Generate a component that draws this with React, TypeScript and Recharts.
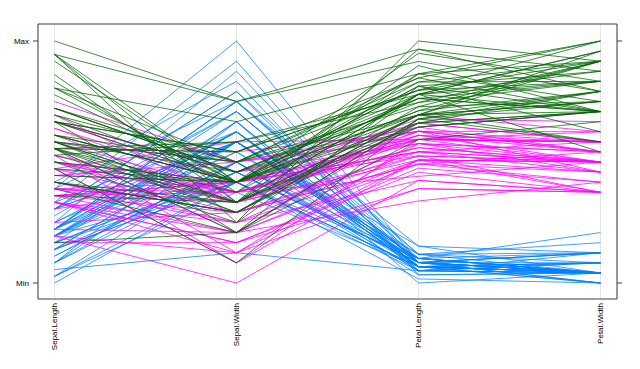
import React from 'react';
import {
  LineChart,
  Line,
  XAxis,
  YAxis,
  CartesianGrid,
  ReferenceLine,
} from 'recharts';

// variables on the horizontal axis
const variables = ['Sepal.Length', 'Sepal.Width', 'Petal.Length', 'Petal.Width'];
const yTickLabels = ['Min', 'Max'];

// one row per flower: [Sepal.Length, Sepal.Width, Petal.Length, Petal.Width]
const setosa = [
  [5.1, 3.5, 1.4, 0.2], [4.9, 3.0, 1.4, 0.2], [4.7, 3.2, 1.3, 0.2], [4.6, 3.1, 1.5, 0.2], [5.0, 3.6, 1.4, 0.2],
  [5.4, 3.9, 1.7, 0.4], [4.6, 3.4, 1.4, 0.3], [5.0, 3.4, 1.5, 0.2], [4.4, 2.9, 1.4, 0.2], [4.9, 3.1, 1.5, 0.1],
  [5.4, 3.7, 1.5, 0.2], [4.8, 3.4, 1.6, 0.2], [4.8, 3.0, 1.4, 0.1], [4.3, 3.0, 1.1, 0.1], [5.8, 4.0, 1.2, 0.2],
  [5.7, 4.4, 1.5, 0.4], [5.4, 3.9, 1.3, 0.4], [5.1, 3.5, 1.4, 0.3], [5.7, 3.8, 1.7, 0.3], [5.1, 3.8, 1.5, 0.3],
  [5.4, 3.4, 1.7, 0.2], [5.1, 3.7, 1.5, 0.4], [4.6, 3.6, 1.0, 0.2], [5.1, 3.3, 1.7, 0.5], [4.8, 3.4, 1.9, 0.2],
  [5.0, 3.0, 1.6, 0.2], [5.0, 3.4, 1.6, 0.4], [5.2, 3.5, 1.5, 0.2], [5.2, 3.4, 1.4, 0.2], [4.7, 3.2, 1.6, 0.2],
  [4.8, 3.1, 1.6, 0.2], [5.4, 3.4, 1.5, 0.4], [5.2, 4.1, 1.5, 0.1], [5.5, 4.2, 1.4, 0.2], [4.9, 3.1, 1.5, 0.2],
  [5.0, 3.2, 1.2, 0.2], [5.5, 3.5, 1.3, 0.2], [4.9, 3.6, 1.4, 0.1], [4.4, 3.0, 1.3, 0.2], [5.1, 3.4, 1.5, 0.2],
  [5.0, 3.5, 1.3, 0.3], [4.5, 2.3, 1.3, 0.3], [4.4, 3.2, 1.3, 0.2], [5.0, 3.5, 1.6, 0.6], [5.1, 3.8, 1.9, 0.4],
  [4.8, 3.0, 1.4, 0.3], [5.1, 3.8, 1.6, 0.2], [4.6, 3.2, 1.4, 0.2], [5.3, 3.7, 1.5, 0.2], [5.0, 3.3, 1.4, 0.2],
];

const versicolor = [
  [7.0, 3.2, 4.7, 1.4], [6.4, 3.2, 4.5, 1.5], [6.9, 3.1, 4.9, 1.5], [5.5, 2.3, 4.0, 1.3], [6.5, 2.8, 4.6, 1.5],
  [5.7, 2.8, 4.5, 1.3], [6.3, 3.3, 4.7, 1.6], [4.9, 2.4, 3.3, 1.0], [6.6, 2.9, 4.6, 1.3], [5.2, 2.7, 3.9, 1.4],
  [5.0, 2.0, 3.5, 1.0], [5.9, 3.0, 4.2, 1.5], [6.0, 2.2, 4.0, 1.0], [6.1, 2.9, 4.7, 1.4], [5.6, 2.9, 3.6, 1.3],
  [6.7, 3.1, 4.4, 1.4], [5.6, 3.0, 4.5, 1.5], [5.8, 2.7, 4.1, 1.0], [6.2, 2.2, 4.5, 1.5], [5.6, 2.5, 3.9, 1.1],
  [5.9, 3.2, 4.8, 1.8], [6.1, 2.8, 4.0, 1.3], [6.3, 2.5, 4.9, 1.5], [6.1, 2.8, 4.7, 1.2], [6.4, 2.9, 4.3, 1.3],
  [6.6, 3.0, 4.4, 1.4], [6.8, 2.8, 4.8, 1.4], [6.7, 3.0, 5.0, 1.7], [6.0, 2.9, 4.5, 1.5], [5.7, 2.6, 3.5, 1.0],
  [5.5, 2.4, 3.8, 1.1], [5.5, 2.4, 3.7, 1.0], [5.8, 2.7, 3.9, 1.2], [6.0, 2.7, 5.1, 1.6], [5.4, 3.0, 4.5, 1.5],
  [6.0, 3.4, 4.5, 1.6], [6.7, 3.1, 4.7, 1.5], [6.3, 2.3, 4.4, 1.3], [5.6, 3.0, 4.1, 1.3], [5.5, 2.5, 4.0, 1.3],
  [5.5, 2.6, 4.4, 1.2], [6.1, 3.0, 4.6, 1.4], [5.8, 2.6, 4.0, 1.2], [5.0, 2.3, 3.3, 1.0], [5.6, 2.7, 4.2, 1.3],
  [5.7, 3.0, 4.2, 1.2], [5.7, 2.9, 4.2, 1.3], [6.2, 2.9, 4.3, 1.3], [5.1, 2.5, 3.0, 1.1], [5.7, 2.8, 4.1, 1.3],
];

const virginica = [
  [6.3, 3.3, 6.0, 2.5], [5.8, 2.7, 5.1, 1.9], [7.1, 3.0, 5.9, 2.1], [6.3, 2.9, 5.6, 1.8], [6.5, 3.0, 5.8, 2.2],
  [7.6, 3.0, 6.6, 2.1], [4.9, 2.5, 4.5, 1.7], [7.3, 2.9, 6.3, 1.8], [6.7, 2.5, 5.8, 1.8], [7.2, 3.6, 6.1, 2.5],
  [6.5, 3.2, 5.1, 2.0], [6.4, 2.7, 5.3, 1.9], [6.8, 3.0, 5.5, 2.1], [5.7, 2.5, 5.0, 2.0], [5.8, 2.8, 5.1, 2.4],
  [6.4, 3.2, 5.3, 2.3], [6.5, 3.0, 5.5, 1.8], [7.7, 3.8, 6.7, 2.2], [7.7, 2.6, 6.9, 2.3], [6.0, 2.2, 5.0, 1.5],
  [6.9, 3.2, 5.7, 2.3], [5.6, 2.8, 4.9, 2.0], [7.7, 2.8, 6.7, 2.0], [6.3, 2.7, 4.9, 1.8], [6.7, 3.3, 5.7, 2.1],
  [7.2, 3.2, 6.0, 1.8], [6.2, 2.8, 4.8, 1.8], [6.1, 3.0, 4.9, 1.8], [6.4, 2.8, 5.6, 2.1], [7.2, 3.0, 5.8, 1.6],
  [7.4, 2.8, 6.1, 1.9], [7.9, 3.8, 6.4, 2.0], [6.4, 2.8, 5.6, 2.2], [6.3, 2.8, 5.1, 1.5], [6.1, 2.6, 5.6, 1.4],
  [7.7, 3.0, 6.1, 2.3], [6.3, 3.4, 5.6, 2.4], [6.4, 3.1, 5.5, 1.8], [6.0, 3.0, 4.8, 1.8], [6.9, 3.1, 5.4, 2.1],
  [6.7, 3.1, 5.6, 2.4], [6.9, 3.1, 5.1, 2.3], [5.8, 2.7, 5.1, 1.9], [6.8, 3.2, 5.9, 2.3], [6.7, 3.3, 5.7, 2.5],
  [6.7, 3.0, 5.2, 2.3], [6.3, 2.5, 5.0, 1.9], [6.5, 3.0, 5.2, 2.0], [6.2, 3.4, 5.4, 2.3], [5.9, 3.0, 5.1, 1.8],
];

const speciesColors = ['#0080ff', '#ff00ff', '#006400'];

// every flower with its species index, drawn in row order
const flowers = [setosa, versicolor, virginica].flatMap((rows, s) =>
  rows.map((values) => ({ values, species: s }))
);

// each variable scaled to its own min..max, like lattice parallelplot
const mins = variables.map((_, j) => Math.min(...flowers.map((f) => f.values[j])));
const maxs = variables.map((_, j) => Math.max(...flowers.map((f) => f.values[j])));

const chartData = variables.map((name, j) => {
  const row: Record<string, number | string> = { name };
  flowers.forEach((f, i) => {
    row[`f${i}`] = (f.values[j] - mins[j]) / (maxs[j] - mins[j]);
  });
  return row;
});

const Y_DOMAIN: [number, number] = [-0.066, 1.0702];
const FONT = '"Liberation Sans", Arial, sans-serif';
const BOX = '#404040';

const VariableTick = ({ x, y, payload }: any) => (
  <text
    x={x}
    y={y}
    transform={`rotate(-90 ${x} ${y})`}
    textAnchor="end"
    dominantBaseline="central"
    fontSize={8}
    fontFamily={FONT}
    fill="#000"
  >
    {payload.value}
  </text>
);

export default function App() {
  return (
    <div style={{ position: 'absolute', left: 0, top: 0, width: 640, height: 369, background: '#fff' }}>
      <LineChart
        width={640}
        height={369}
        data={chartData}
        margin={{ top: 24, right: 0, bottom: 0, left: 0 }}
      >
        <CartesianGrid xAxisId="b" yAxisId="l" horizontal={false} vertical={true} stroke="#e6e6e6" />
        <XAxis
          xAxisId="b"
          dataKey="name"
          height={70}
          padding={{ left: 16.5, right: 16.5 }}
          tickLine={false}
          tickSize={0}
          tickMargin={4}
          interval={0}
          axisLine={{ stroke: BOX }}
          tick={<VariableTick />}
        />
        <YAxis
          yAxisId="l"
          type="number"
          width={38}
          domain={Y_DOMAIN}
          allowDataOverflow
          ticks={[0, 1]}
          tickFormatter={(v: number) => yTickLabels[v]}
          tickSize={5}
          tickMargin={4}
          tickLine={{ stroke: BOX }}
          axisLine={{ stroke: BOX }}
          tick={{ fontSize: 8, fill: '#000', fontFamily: FONT }}
        />
        <YAxis
          yAxisId="r"
          type="number"
          orientation="right"
          width={23}
          domain={Y_DOMAIN}
          allowDataOverflow
          ticks={[0, 1]}
          tickFormatter={() => ''}
          tickSize={5}
          tickLine={{ stroke: BOX }}
          axisLine={{ stroke: BOX }}
        />
        {flowers.map((f, i) => (
          <Line
            key={i}
            xAxisId="b"
            yAxisId="l"
            dataKey={`f${i}`}
            stroke={speciesColors[f.species]}
            strokeWidth={0.75}
            dot={false}
            activeDot={false}
            isAnimationActive={false}
          />
        ))}
        {/* top edge of the panel box */}
        <ReferenceLine xAxisId="b" yAxisId="l" y={Y_DOMAIN[1]} stroke={BOX} ifOverflow="visible" />
      </LineChart>
    </div>
  );
}
